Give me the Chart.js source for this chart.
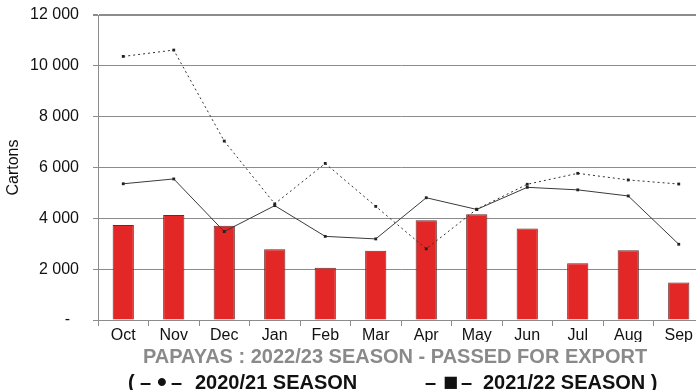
<!DOCTYPE html>
<html>
<head>
<meta charset="utf-8">
<script src="https://cdn.jsdelivr.net/npm/chart.js@4"></script>
<style>
  html, body { margin: 0; padding: 0; background: #fff; overflow: hidden; }
  #wrap { position: relative; width: 720px; height: 390px; }
</style>
</head>
<body>
<div id="wrap"><canvas id="c"></canvas></div>
<script>
// Monthly papaya cartons passed for export
const months = ['Oct', 'Nov', 'Dec', 'Jan', 'Feb', 'Mar', 'Apr', 'May', 'Jun', 'Jul', 'Aug', 'Sep'];
const season2022_23 = [3740, 4130, 3710, 2780, 2060, 2720, 3920, 4160, 3600, 2230, 2740, 1480];
const season2021_22 = [5360, 5550, 3480, 4500, 3290, 3190, 4810, 4350, 5220, 5120, 4880, 2980];
const season2020_21 = [10370, 10620, 7040, 4570, 6160, 4470, 2800, 4360, 5340, 5770, 5510, 5350];
const yTicks = [0, 2000, 4000, 6000, 8000, 10000, 12000];

const chartTitle = 'PAPAYAS : 2022/23 SEASON - PASSED FOR EXPORT';
const legendLeft = '2020/21 SEASON';
const legendRight = '2021/22 SEASON )';

function fmtThousands(v) {
  if (v === 0) return '-  ';
  return String(v).replace(/\B(?=(\d{3})+(?!\d))/g, ' ');
}

// Heading and legend line drawn beneath the axis
const captionPlugin = {
  id: 'caption',
  afterDraw(chart) {
    const ctx = chart.ctx;
    const fam = '"Liberation Sans", Arial, sans-serif';
    ctx.save();
    ctx.textBaseline = 'alphabetic';
    ctx.font = 'bold 20px ' + fam;
    ctx.fillStyle = '#8a8a8a';
    ctx.textAlign = 'center';
    ctx.fillText(chartTitle, 395, 363);

    ctx.fillStyle = '#111';
    ctx.textAlign = 'left';
    const by = 389;
    ctx.fillText('(', 128, by);
    ctx.fillText('\u2013', 140, by);
    ctx.fillText('\u2013', 171, by);
    ctx.fillText(legendLeft, 195, by);
    ctx.fillText('\u2013', 425, by);
    ctx.fillText('\u2013', 461, by);
    ctx.fillText(legendRight, 483, by);
    ctx.font = 'bold 28px ' + fam;
    ctx.fillText('\u2022', 157, by + 2);
    ctx.font = 'bold 16px "DejaVu Sans", sans-serif';
    ctx.fillText('\u25A0', 443, by - 2);
    ctx.restore();
  }
};

const gridGray = '#8c8c8c';

new Chart(document.getElementById('c'), {
  data: {
    labels: months,
    datasets: [
      {
        type: 'line',
        label: '2020/21 SEASON',
        data: season2020_21,
        borderColor: '#333',
        borderWidth: 1,
        borderDash: [2, 3],
        pointStyle: 'rect',
        pointRadius: 2,
        pointBackgroundColor: '#222',
        pointBorderColor: '#222',
        pointBorderWidth: 0,
        tension: 0,
        order: 1
      },
      {
        type: 'line',
        label: '2021/22 SEASON',
        data: season2021_22,
        borderColor: '#3a3a3a',
        borderWidth: 1,
        pointStyle: 'rect',
        pointRadius: 2,
        pointBackgroundColor: '#222',
        pointBorderColor: '#222',
        pointBorderWidth: 0,
        tension: 0,
        order: 2
      },
      {
        type: 'bar',
        label: '2022/23 SEASON',
        data: season2022_23,
        backgroundColor: '#e22726',
        borderColor: '#6a2a2a',
        borderWidth: 1,
        barPercentage: 0.42,
        categoryPercentage: 1,
        order: 3
      }
    ]
  },
  options: {
    responsive: true,
    maintainAspectRatio: false,
    animation: false,
    layout: { padding: { left: 0, right: 16, top: 15, bottom: 48 } },
    plugins: {
      legend: { display: false },
      tooltip: { enabled: false },
      title: { display: false }
    },
    scales: {
      x: {
        offset: true,
        grid: {
          offset: true,
          drawOnChartArea: false,
          drawTicks: true,
          tickLength: 6,
          color: gridGray
        },
        border: { display: true, color: gridGray, width: 1 },
        ticks: {
          color: '#111',
          padding: 0,
          maxRotation: 0,
          autoSkip: false,
          font: { family: '"Liberation Sans", Arial, sans-serif', size: 16 }
        },
        afterFit(scale) { scale.height = 22; }
      },
      y: {
        min: 0,
        max: 12000,
        afterBuildTicks(scale) { scale.ticks = yTicks.map(v => ({ value: v })); },
        grid: {
          color: gridGray,
          lineWidth: c => (c.tick && c.tick.value === 12000 ? 2 : 1),
          tickLength: 5
        },
        border: { display: true, color: gridGray, width: 1 },
        ticks: {
          color: '#111',
          padding: 14,
          callback: v => fmtThousands(v),
          font: { family: '"Liberation Sans", Arial, sans-serif', size: 16 }
        },
        title: {
          display: true,
          text: 'Cartons',
          color: '#111',
          padding: { top: 4, bottom: 0 },
          font: { family: '"Liberation Sans", Arial, sans-serif', size: 16 }
        },
        afterFit(scale) {
          scale.width = 98;
          scale.paddingTop = 0;
          scale.paddingBottom = 0;
        }
      }
    }
  },
  plugins: [captionPlugin]
});
</script>
</body>
</html>
